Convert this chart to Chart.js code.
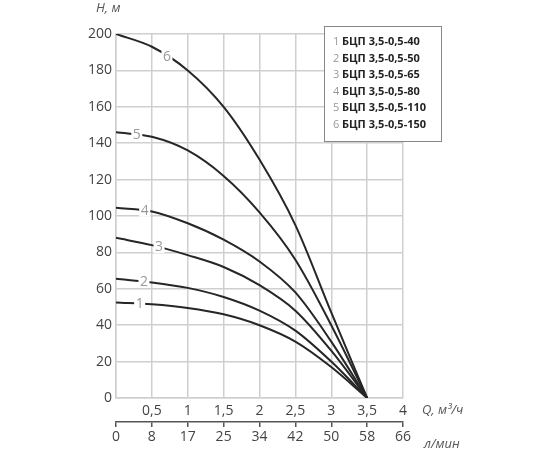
<!DOCTYPE html>
<html>
<head>
<meta charset="utf-8">
<script src="https://cdn.jsdelivr.net/npm/chart.js@4.4.0/dist/chart.umd.min.js"></script>
<style>
  html, body { margin: 0; padding: 0; background: #fff; }
  #wrap { width: 550px; height: 450px; }
</style>
</head>
<body>
<div id="wrap"><canvas id="pumpChart"></canvas></div>
<script>
// flow, m3/h
const flowQ = [0, 0.5, 1, 1.5, 2, 2.5, 3, 3.5];
// head, m (one array per pump)
const head40  = [52.5, 51.5, 49.5, 46, 40, 31, 17, 0];
const head50  = [65.5, 63.5, 60.5, 55.5, 48, 37, 20, 0];
const head65  = [88, 84, 78.5, 72, 62, 48, 26, 0];
const head80  = [104.5, 102.5, 96, 87, 75, 58, 31, 0];
const head110 = [146, 143.5, 136, 122, 102, 76, 40, 0];
const head150 = [200, 193, 180, 160, 131, 95, 47, 0];

const modelNames = ['БЦП 3,5-0,5-40', 'БЦП 3,5-0,5-50', 'БЦП 3,5-0,5-65',
                    'БЦП 3,5-0,5-80', 'БЦП 3,5-0,5-110', 'БЦП 3,5-0,5-150'];
const qTickLabels = ['', '0,5', '1', '1,5', '2', '2,5', '3', '3,5', '4'];
const lpmTickLabels = ['0', '8', '17', '25', '34', '42', '50', '58', '66'];
// where the curve number sits along each curve (m3/h)
const curveTagQ = [0.33, 0.39, 0.6, 0.4, 0.29, 0.71];

const heads = [head40, head50, head65, head80, head110, head150];
const FONT = "'Open Sans', sans-serif";

function headAt(arr, q) {
    for (let i = 1; i < flowQ.length; i++) {
        if (q <= flowQ[i]) {
            const t = (q - flowQ[i - 1]) / (flowQ[i] - flowQ[i - 1]);
            return arr[i - 1] + t * (arr[i] - arr[i - 1]);
        }
    }
    return arr[arr.length - 1];
}

const textPlugin = {
    id: 'pumpText',
    afterDatasetsDraw(chart) {
        const ctx = chart.ctx;
        const x = chart.scales.x, y = chart.scales.y;
        ctx.save();
        ctx.font = '14px ' + FONT;
        ctx.textAlign = 'center';
        ctx.textBaseline = 'middle';
        heads.forEach(function(arr, i) {
            const q = curveTagQ[i];
            const px = x.getPixelForValue(q);
            const py = y.getPixelForValue(headAt(arr, q));
            const label = String(i + 1);
            const w = ctx.measureText(label).width + 3;
            ctx.fillStyle = '#fff';
            ctx.fillRect(px - w / 2, py - 6, w, 12);
            ctx.fillStyle = '#9a9a9a';
            ctx.fillText(label, px, py);
        });
        ctx.restore();
    },
    afterDraw(chart) {
        const ctx = chart.ctx;
        const area = chart.chartArea;
        ctx.save();
        // axis titles
        ctx.fillStyle = '#555';
        ctx.font = 'italic 13px ' + FONT;
        ctx.textBaseline = 'middle';
        ctx.textAlign = 'left';
        ctx.fillText('H, м', area.left - 20, 8);
        ctx.fillText('Q, м³/ч', area.right + 19, area.bottom + 12);
        ctx.fillText('л/мин', area.right + 21, area.bottom + 46);
        // legend box
        const bx = area.left + 208, by = area.top - 8, bw = 117, bh = 115;
        ctx.fillStyle = '#fff';
        ctx.fillRect(bx, by, bw, bh);
        ctx.strokeStyle = '#888';
        ctx.lineWidth = 1;
        ctx.strokeRect(bx + 0.5, by + 0.5, bw, bh);
        modelNames.forEach(function(name, i) {
            const ty = by + 16 + i * 16.5;
            ctx.font = '11px ' + FONT;
            ctx.fillStyle = '#999';
            ctx.fillText(String(i + 1), bx + 9, ty);
            ctx.font = 'bold 11px ' + FONT;
            ctx.fillStyle = '#222';
            ctx.fillText(name, bx + 18, ty);
        });
        ctx.restore();
    }
};

const ctx = document.getElementById('pumpChart').getContext('2d');
new Chart(ctx, {
    type: 'line',
    data: {
        datasets: heads.map(function(arr, i) {
            return {
                label: modelNames[i],
                data: flowQ.map(function(q, j) { return { x: q, y: arr[j] }; }),
                borderColor: '#262626',
                borderWidth: 2,
                pointRadius: 0,
                cubicInterpolationMode: 'monotone',
                fill: false
            };
        })
    },
    options: {
        responsive: true,
        maintainAspectRatio: false,
        animation: false,
        layout: { padding: { left: 79, right: 147, top: 34, bottom: 0 } },
        plugins: {
            legend: { display: false },
            tooltip: { enabled: false }
        },
        scales: {
            x: {
                type: 'linear',
                position: 'bottom',
                min: 0,
                max: 4,
                afterFit: function(scale) { scale.height = 24; },
                grid: { color: '#cfcfcf', lineWidth: 1.5, drawTicks: false },
                border: { color: '#cfcfcf', width: 1.5 },
                ticks: {
                    stepSize: 0.5,
                    padding: 5,
                    color: '#444',
                    font: { family: FONT, size: 14 },
                    callback: function(v, i) { return qTickLabels[i]; }
                }
            },
            x2: {
                type: 'linear',
                position: 'bottom',
                min: 0,
                max: 4,
                afterFit: function(scale) { scale.height = 28; },
                grid: { drawOnChartArea: false, drawTicks: true, tickLength: 5, color: '#555', lineWidth: 1.5 },
                border: { color: '#555', width: 1.5 },
                ticks: {
                    stepSize: 0.5,
                    padding: 2,
                    color: '#444',
                    font: { family: FONT, size: 14 },
                    callback: function(v, i) { return lpmTickLabels[i]; }
                }
            },
            y: {
                min: 0,
                max: 200,
                afterFit: function(scale) { scale.width = 37; },
                grid: { color: '#cfcfcf', lineWidth: 1.5, drawTicks: false },
                border: { color: '#cfcfcf', width: 1.5 },
                ticks: {
                    stepSize: 20,
                    padding: 4,
                    color: '#444',
                    font: { family: FONT, size: 14 }
                }
            }
        }
    },
    plugins: [textPlugin]
});
</script>
</body>
</html>
